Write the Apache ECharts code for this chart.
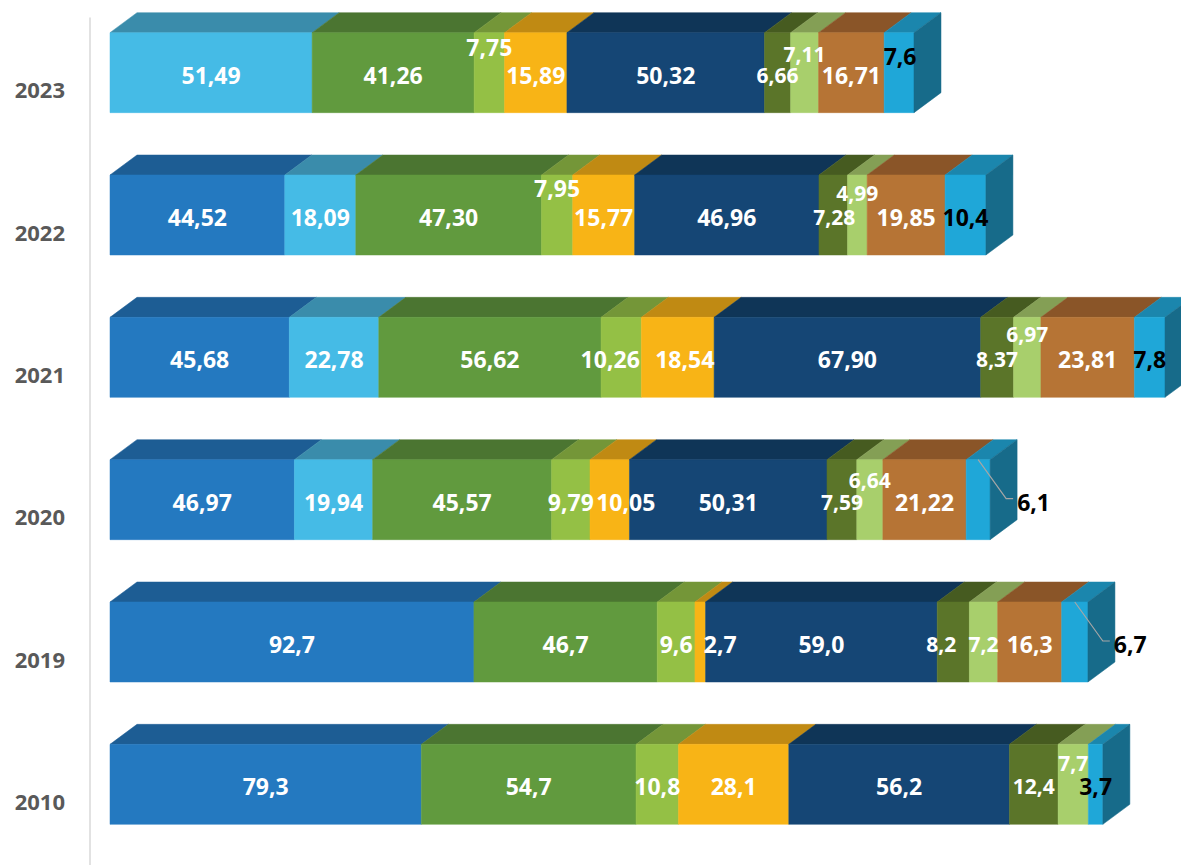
<!DOCTYPE html>
<html>
<head>
<meta charset="utf-8">
<script src="https://cdn.jsdelivr.net/npm/echarts@6/dist/echarts.min.js"></script>
<style>
html,body{margin:0;padding:0;background:#fff;overflow:hidden;}
#chart{width:1181px;height:872px;}
</style>
</head>
<body>
<div id="chart"></div>
<script>
// ---- data ----
const years = ['2023', '2022', '2021', '2020', '2019', '2010'];
const blue      = [null, 44.52, 45.68, 46.97, 92.7, 79.3];
const lightBlue = [51.49, 18.09, 22.78, 19.94, null, null];
const green     = [41.26, 47.30, 56.62, 45.57, 46.7, 54.7];
const lightGreen= [7.75, 7.95, 10.26, 9.79, 9.6, 10.8];
const yellow    = [15.89, 15.77, 18.54, 10.05, 2.7, 28.1];
const navy      = [50.32, 46.96, 67.90, 50.31, 59.0, 56.2];
const olive     = [6.66, 7.28, 8.37, 7.59, 8.2, 12.4];
const paleGreen = [7.11, 4.99, 6.97, 6.64, 7.2, 7.7];
const brown     = [16.71, 19.85, 23.81, 21.22, 16.3, null];
const cyan      = [7.6, 10.4, 7.8, 6.1, 6.7, 3.7];
// decimals shown per year row
const rowDecimals = [2, 2, 2, 2, 1, 1];

// ---- styles ----
const seriesList = [
  {name: 'blue',       data: blue,       front: '#2479c0', top: '#1d5d94', side: '#1a5283', text: '#fff', small: false},
  {name: 'lightBlue',  data: lightBlue,  front: '#45bbe6', top: '#3a8cab', side: '#317a96', text: '#fff', small: false},
  {name: 'green',      data: green,      front: '#619a3e', top: '#4b7531', side: '#3f642a', text: '#fff', small: false},
  {name: 'lightGreen', data: lightGreen, front: '#94c045', top: '#749638', side: '#5f7c2e', text: '#fff', small: false},
  {name: 'yellow',     data: yellow,     front: '#f8b416', top: '#c08a13', side: '#a07310', text: '#fff', small: false},
  {name: 'navy',       data: navy,       front: '#154675', top: '#0f3557', side: '#0c2c48', text: '#fff', small: false},
  {name: 'olive',      data: olive,      front: '#5b7529', top: '#465b20', side: '#3a4b1a', text: '#fff', small: true},
  {name: 'paleGreen',  data: paleGreen,  front: '#a8cf6c', top: '#849f55', side: '#6d8446', text: '#fff', small: true},
  {name: 'brown',      data: brown,      front: '#b67435', top: '#8a5528', side: '#734622', text: '#fff', small: false},
  {name: 'cyan',       data: cyan,       front: '#1fa7d8', top: '#1b86ad', side: '#176b8a', text: '#000', small: false, decimals: 1}
];
// label nudges [dx, dy] in px, key "seriesIndex-row"
const labelNudge = {
  '3-0': [0, -28], '3-1': [0, -29], '3-2': [-11, 0],
  '4-2': [7, 0], '4-3': [16, 0], '4-4': [20, 0],
  '6-1': [1, 0], '6-4': [-12, 0],
  '7-0': [0, -21], '7-1': [0, -24], '7-2': [0, -25], '7-3': [0, -22], '7-5': [0, -23],
  '9-0': [1, -19]
};
// labels drawn outside with a leader line
const leaderLabels = {'9-3': true, '9-4': true};

const FONT = '"Open Sans", "Noto Sans", sans-serif';
const DX = 27, DY = 20;            // 3D depth offset
const FRONT_UP = 56.5, FRONT_DOWN = 23.5; // front face extent around band centre

// compute starts and last segment per row
const starts = seriesList.map(() => []);
const lastIdx = years.map(() => -1);
years.forEach((y, r) => {
  let acc = 0;
  seriesList.forEach((s, i) => {
    starts[i][r] = acc;
    if (s.data[r] != null) { acc += s.data[r]; lastIdx[r] = i; }
  });
});

function fmt(v, dec) { return v.toFixed(dec).replace('.', ','); }

const series = seriesList.map((s, si) => {
  const data = [];
  s.data.forEach((v, r) => {
    if (v == null) return;
    data.push([v, r, starts[si][r], lastIdx[r] === si ? 1 : 0]);
  });
  return {
    type: 'custom',
    name: s.name,
    clip: false,
    encode: {x: [2], y: 1},
    data: data,
    renderItem: function (params, api) {
      const v = api.value(0), r = api.value(1), st = api.value(2), last = api.value(3);
      const p0 = api.coord([st, r]);
      const p1 = api.coord([st + v, r]);
      const x0 = p0[0], x1 = p1[0];
      const top = p0[1] - FRONT_UP, bot = p0[1] + FRONT_DOWN;
      const children = [];
      children.push({type: 'polygon', z2: 1, shape: {points: [[x0, top], [x1, top], [x1 + DX, top - DY], [x0 + DX, top - DY]]},
        style: {fill: s.top, stroke: s.top, lineWidth: 0.5}});
      children.push({type: 'rect', z2: 1, shape: {x: x0, y: top, width: x1 - x0, height: bot - top},
        style: {fill: s.front, stroke: s.front, lineWidth: 0.5}});
      if (last) {
        children.push({type: 'polygon', z2: 1, shape: {points: [[x1, top], [x1 + DX, top - DY], [x1 + DX, bot - DY], [x1, bot]]},
          style: {fill: s.side, stroke: s.side, lineWidth: 0.5}});
      }
      const key = si + '-' + r;
      const dec = s.decimals != null ? s.decimals : rowDecimals[r];
      const txt = fmt(v, dec);
      const fc = (top + bot) / 2;
      const fontSize = s.small ? 21 : 23;
      if (leaderLabels[key]) {
        const cx = (x0 + x1) / 2;
        children.push({type: 'polyline', z2: 50, shape: {points: [[cx, top], [cx + 28, fc - 1], [cx + 35, fc - 1]]},
          style: {stroke: '#a6a6a6', lineWidth: 1.2, fill: null}});
        children.push({type: 'text', z2: 100, x: cx + 39, y: fc + 2,
          style: {text: txt, fill: '#000', font: 'bold ' + fontSize + 'px ' + FONT, textAlign: 'left', textVerticalAlign: 'middle'}});
      } else {
        const n = labelNudge[key] || [0, 0];
        children.push({type: 'text', z2: 100, x: (x0 + x1) / 2 + n[0], y: fc + 2 + n[1],
          style: {text: txt, fill: s.text, font: 'bold ' + fontSize + 'px ' + FONT, textAlign: 'center', textVerticalAlign: 'middle'}});
      }
      return {type: 'group', children: children};
    }
  };
});

const chart = echarts.init(document.getElementById('chart'), null, {renderer: 'svg'});
chart.setOption({
  animation: false,
  backgroundColor: '#ffffff',
  grid: {left: 110, right: 11, top: 18, height: 854},
  xAxis: {type: 'value', min: 0, max: 270, show: false},
  yAxis: {
    type: 'category', data: years, inverse: true, offset: 20,
    axisLine: {show: true, onZero: false, lineStyle: {color: '#d9d9d9', width: 1.5}},
    axisTick: {show: false},
    axisLabel: {color: '#595959', fontSize: 22, fontWeight: 'bold', fontFamily: FONT, margin: 25},
    splitLine: {show: false}
  },
  series: series
});
</script>
</body>
</html>
